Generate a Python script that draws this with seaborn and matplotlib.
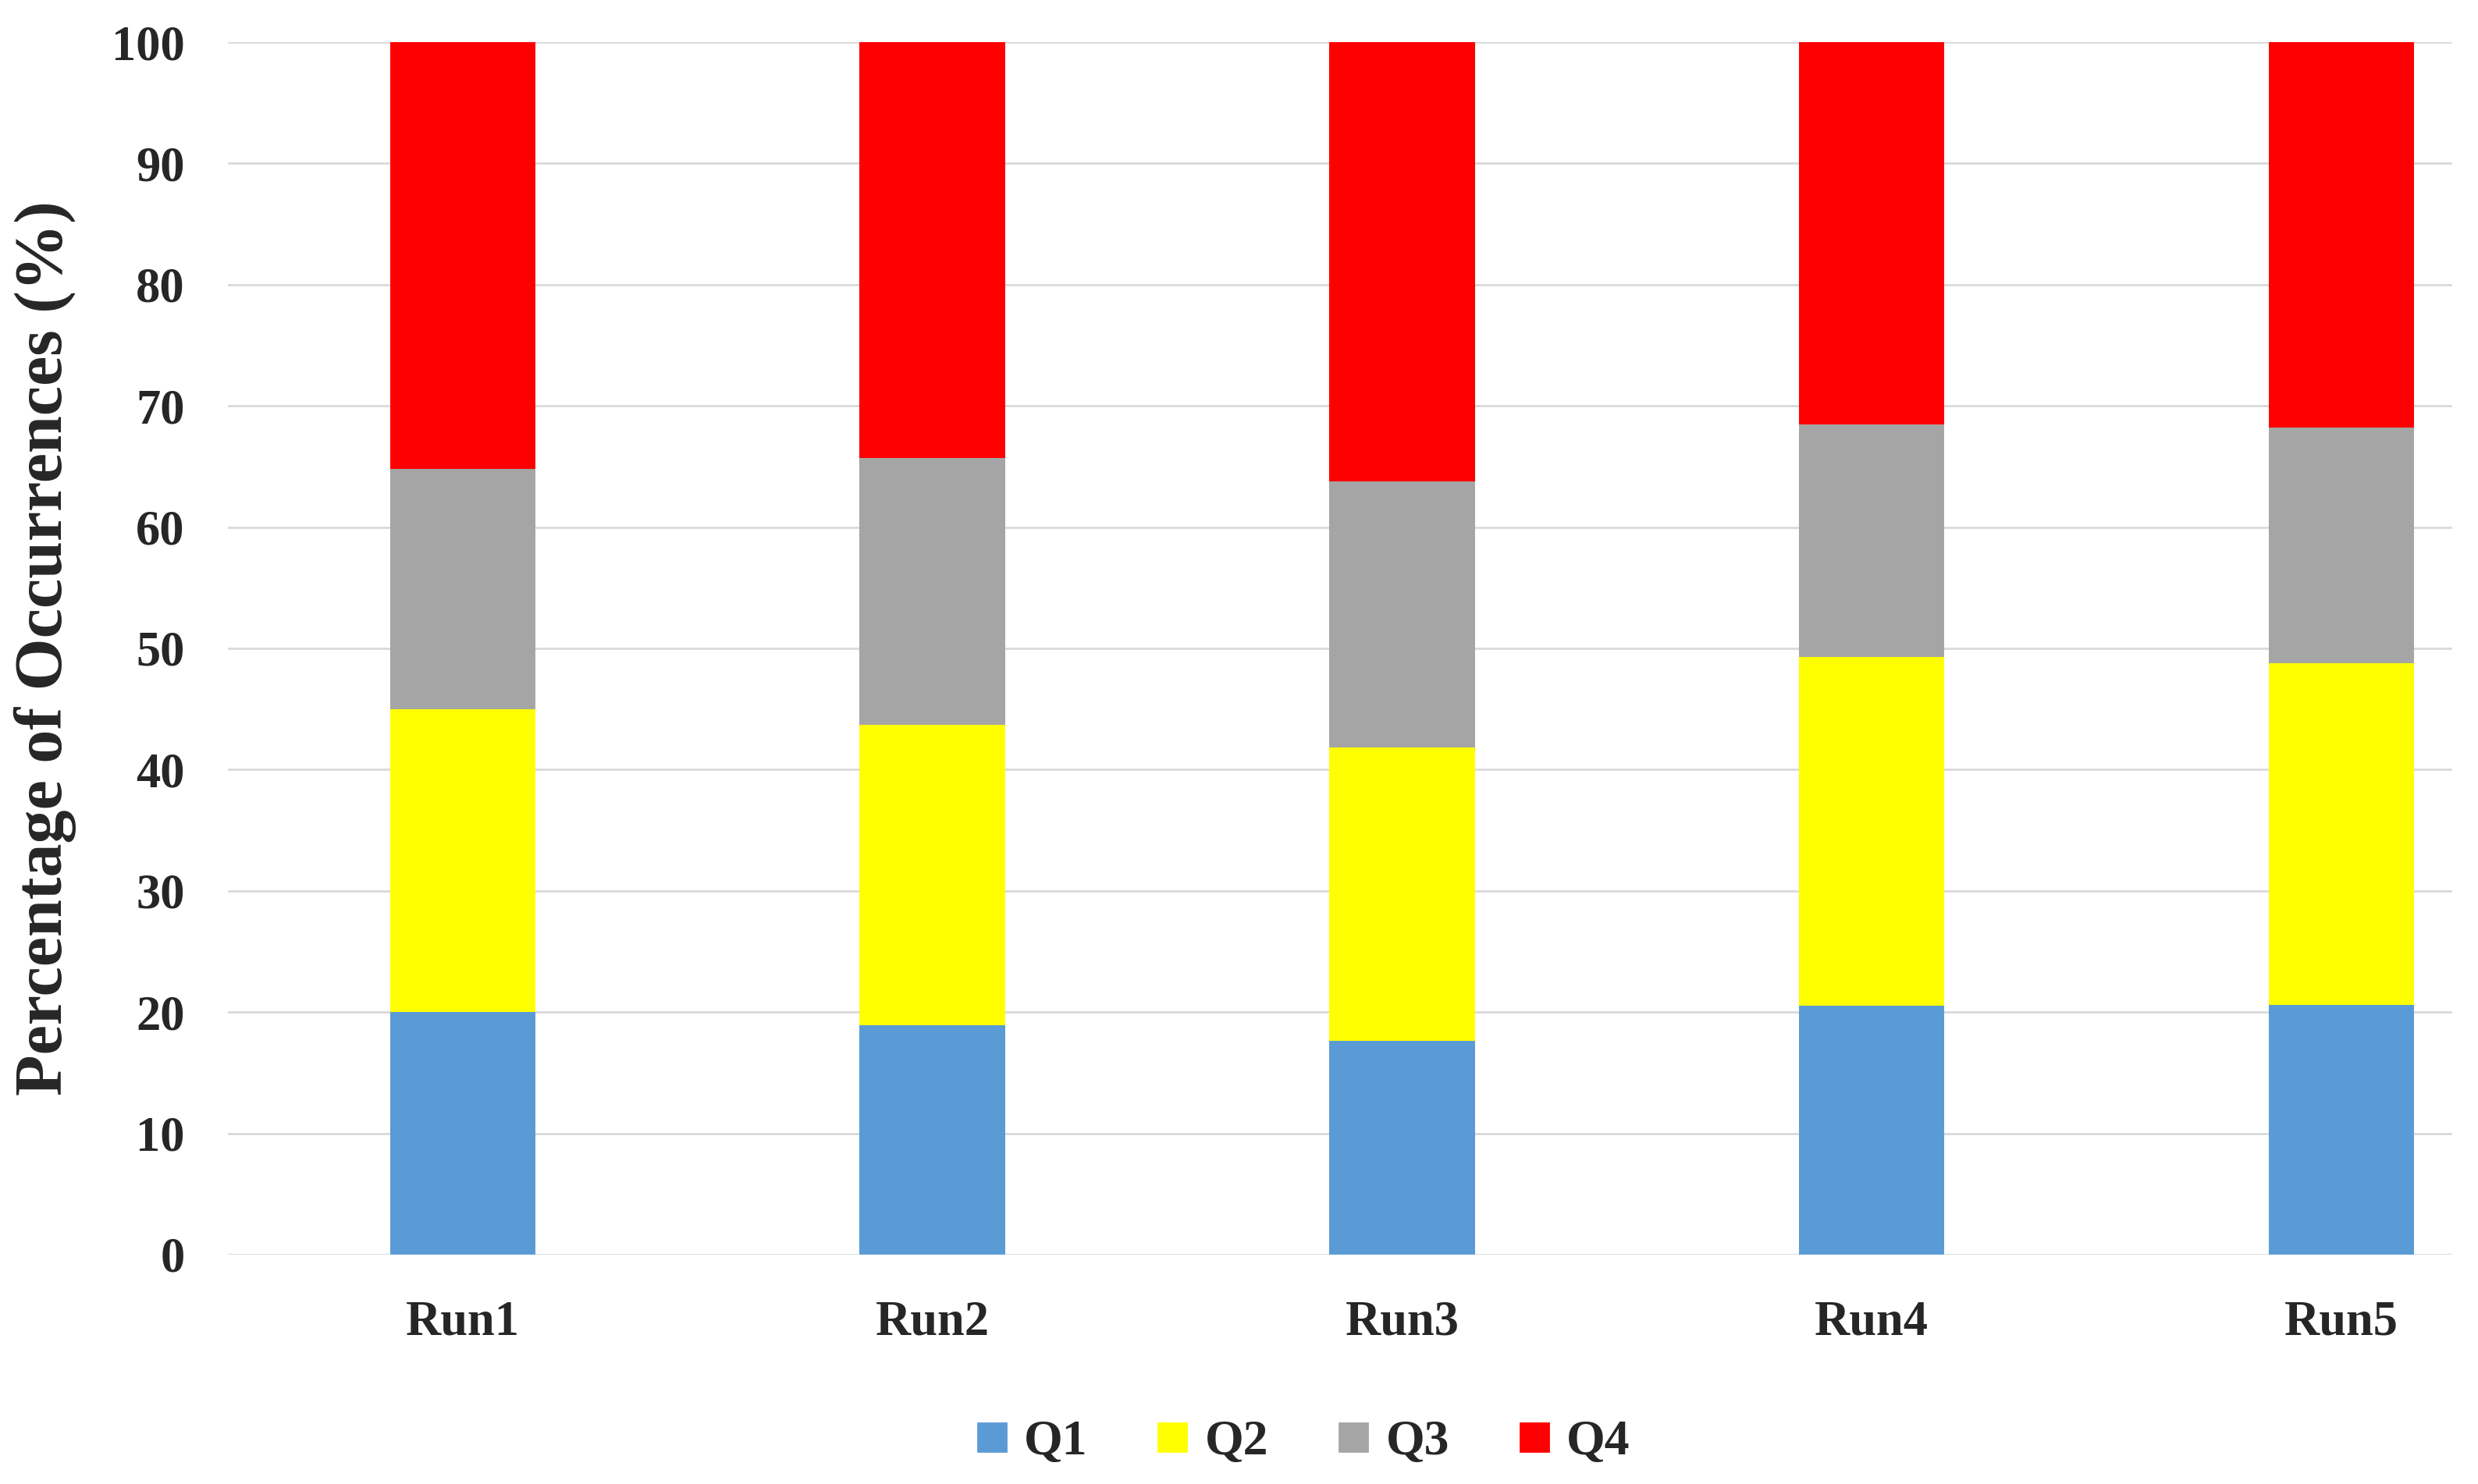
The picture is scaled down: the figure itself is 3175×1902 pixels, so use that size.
import numpy as np
import pandas as pd
import matplotlib
matplotlib.use("Agg")
import matplotlib.pyplot as plt
from matplotlib.lines import Line2D
import seaborn as sns

runs = ["Run1", "Run2", "Run3", "Run4", "Run5"]
quartiles = ["Q1", "Q2", "Q3", "Q4"]
q1 = [20.0, 18.9, 17.6, 20.5, 20.6]
q2 = [25.0, 24.8, 24.2, 28.8, 28.2]
q3 = [19.8, 22.0, 22.0, 19.2, 19.4]
q4 = [35.2, 34.3, 36.2, 31.5, 31.8]
colors = ["#5b9bd5", "#ffff00", "#a5a5a5", "#ff0000"]

sns.set_style("white")
plt.rcParams["font.family"] = ["Liberation Serif", "DejaVu Serif"]
plt.rcParams["font.weight"] = "bold"

df = pd.DataFrame({"Run": runs, "Q1": q1, "Q2": q2, "Q3": q3, "Q4": q4})
cum = df[quartiles].cumsum(axis=1)

fig = plt.figure(figsize=(15.875, 9.51), dpi=200)
ax = fig.add_axes([0.092, 0.1546, 0.8976, 0.817])

# stacked bars: draw the cumulative totals from the top down
for q, c in reversed(list(zip(quartiles, colors))):
    sns.barplot(x=df["Run"], y=cum[q], color=c, width=0.31, saturation=1,
                ax=ax, zorder=3, linewidth=0)

ax.set_ylim(0, 100)
ax.set_xlim(-0.5, 4.236)
ax.set_yticks(range(0, 101, 10))
ax.yaxis.grid(True, color="#d9d9d9", linewidth=1.0, zorder=0)
ax.set_axisbelow(True)
for s in ax.spines.values():
    s.set_visible(False)
ax.tick_params(axis="both", length=0, labelsize=22.5)
ax.tick_params(axis="y", pad=20)
ax.tick_params(axis="x", pad=21)
ax.set_xlabel("")
ax.set_ylabel("Percentage of Occurrences (%)", fontsize=31, fontweight="bold", labelpad=16)

handles = [Line2D([], [], marker="s", linestyle="", markersize=13, color=c) for c in colors]
fig.legend(handles, quartiles, loc="center", bbox_to_anchor=(0.526, 0.028), ncol=4,
           frameon=False, fontsize=23, handlelength=0.6, handletextpad=0.35,
           columnspacing=1.4)

fig.savefig("out.png", dpi=200)
